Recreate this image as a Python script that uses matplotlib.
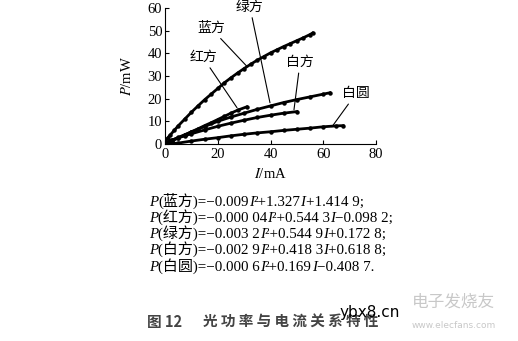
import numpy as np
import matplotlib.pyplot as plt

plt.rcParams['font.family'] = ['Liberation Serif', 'Noto Sans CJK SC']
plt.rcParams['mathtext.fontset'] = 'stix'

# data (I in mA, P in mW)
blue_i = [0, 1, 2, 3.5, 5, 7.5, 10, 12.5, 15, 17.5, 20, 22.5, 25, 27.5, 30, 32.5,
          35, 37.5, 40, 42.5, 45, 47.5, 50, 52.5, 55, 56]
blue_p = [1.4, 2.7, 4.0, 6.0, 8.0, 11.0, 14.0, 16.8, 19.5, 22.0, 24.5, 27.0, 29.2,
          31.3, 33.3, 35.2, 37.0, 38.6, 40.2, 41.6, 43.0, 44.3, 45.6, 46.9, 48.3, 49.0]
red_i = [0, 2.5, 5, 7.5, 10, 12.5, 15, 17.5, 20, 22.5, 25, 27.5, 31]
red_p = [0.0, 1.3, 2.6, 4.0, 5.4, 6.7, 8.1, 9.4, 10.8, 12.2, 13.6, 14.9, 16.4]
green_i = [0, 2.5, 5, 7.5, 10, 15, 20, 25, 30, 35, 40, 45, 50, 55, 60, 62.5]
green_p = [0.2, 1.6, 2.9, 4.1, 5.3, 7.7, 10.0, 11.9, 13.6, 15.3, 16.8, 18.3, 19.6,
           20.8, 22.0, 22.6]
white_sq_i = [0, 2.5, 5, 7.5, 10, 15, 20, 25, 30, 35, 40, 45, 50]
white_sq_p = [0.6, 1.7, 2.7, 3.6, 4.5, 6.2, 7.8, 9.2, 10.5, 11.7, 12.7, 13.6, 14.3]
white_ci_i = [0, 5, 10, 15, 20, 25, 30, 35, 40, 45, 50, 55, 60, 65, 67.5]
white_ci_p = [0.0, 0.4, 1.3, 2.1, 2.8, 3.6, 4.3, 4.9, 5.4, 6.0, 6.5, 7.0, 7.6, 8.0, 8.1]

series = [(blue_i, blue_p), (red_i, red_p), (green_i, green_p),
          (white_sq_i, white_sq_p), (white_ci_i, white_ci_p)]

labels = ['绿方', '蓝方', '红方', '白方', '白圆']
label_xy = [(32.2, 60.4), (17.4, 51.1), (14.4, 38.2), (51.2, 36.0), (72.4, 22.2)]
point_xy = [(39.8, 18.2), (31.1, 34.2), (27.3, 16.0), (48.9, 15.1), (63.3, 7.6)]

equations = [
    [('P', 'italic'), ('(蓝方)=−0.009', 'normal'), ('I', 'italic'), ('²+1.327', 'normal'),
     ('I', 'italic'), ('+1.414 9;', 'normal')],
    [('P', 'italic'), ('(红方)=−0.000 04', 'normal'), ('I', 'italic'), ('²+0.544 3', 'normal'),
     ('I', 'italic'), ('−0.098 2;', 'normal')],
    [('P', 'italic'), ('(绿方)=−0.003 2', 'normal'), ('I', 'italic'), ('²+0.544 9', 'normal'),
     ('I', 'italic'), ('+0.172 8;', 'normal')],
    [('P', 'italic'), ('(白方)=−0.002 9', 'normal'), ('I', 'italic'), ('²+0.418 3', 'normal'),
     ('I', 'italic'), ('+0.618 8;', 'normal')],
    [('P', 'italic'), ('(白圆)=−0.000 6', 'normal'), ('I', 'italic'), ('²+0.169', 'normal'),
     ('I', 'italic'), ('−0.408 7.', 'normal')],
]

W, H = 518, 341
fig = plt.figure(figsize=(W / 100, H / 100), dpi=100)
ax = fig.add_axes([165 / W, 1 - 144 / H, 211 / W, 136 / H])

for xs, ys in series:
    ax.plot(xs, ys, color='black', lw=2.0, marker='o', ms=2.2)

for lab, (tx, ty), (px, py) in zip(labels, label_xy, point_xy):
    ax.annotate(lab, xy=(px, py), xytext=(tx, ty), ha='center', va='center',
                fontsize=10, annotation_clip=False,
                arrowprops=dict(arrowstyle='-', color='black', lw=0.8,
                                shrinkA=1, shrinkB=0))

ax.set_xlim(0, 80)
ax.set_ylim(0, 60)
ax.set_xticks([0, 20, 40, 60, 80])
ax.set_yticks([0, 10, 20, 30, 40, 50, 60])
ax.spines['top'].set_visible(False)
ax.spines['right'].set_visible(False)
ax.tick_params(direction='in', length=3, labelsize=10.5, pad=2)
ax.tick_params(axis='x', pad=3)
ax.set_xlabel('$I$/mA', fontsize=10.5, labelpad=4)
ax.set_ylabel('$P$/mW', fontsize=10.5, labelpad=10)


def rich_line(x, y, pieces, size=10.8):
    s, st = pieces[0]
    t = ax.annotate(s, xy=(x, y), xycoords='figure pixels', ha='left', va='bottom',
                    style=st, fontsize=size, annotation_clip=False)
    for s, st in pieces[1:]:
        t = ax.annotate(s, xy=(1, 0), xycoords=t, ha='left', va='bottom',
                        style=st, fontsize=size, annotation_clip=False)


line_y = [202, 218, 234, 250, 267]
for yy, eq in zip(line_y, equations):
    rich_line(149, H - yy - 7, eq)

cap_font = ['Noto Sans CJK SC', 'DejaVu Sans']
fig.text(147 / W, 1 - 322 / H, '图 12', family=cap_font, fontsize=10.5,
         weight='bold', color='#444444', va='center')
fig.text(203 / W, 1 - 322 / H, ' '.join('光功率与电流关系特性'), family=cap_font,
         fontsize=10.5, weight='bold', color='#444444', va='center')

# watermarks
fig.text(340 / W, 1 - 312 / H, 'ybx8.cn', family='DejaVu Sans', fontsize=11,
         color='black', va='center')
fig.text(412 / W, 1 - 302 / H, '电子发烧友', family=cap_font, fontsize=12,
         color='#c8c8c8', va='center', style='italic')
fig.text(412 / W, 1 - 325 / H, 'www.elecfans.com', family='DejaVu Sans', fontsize=6.5,
         color='#c8c8c8', va='center')

fig.savefig('out.png', dpi=100)
